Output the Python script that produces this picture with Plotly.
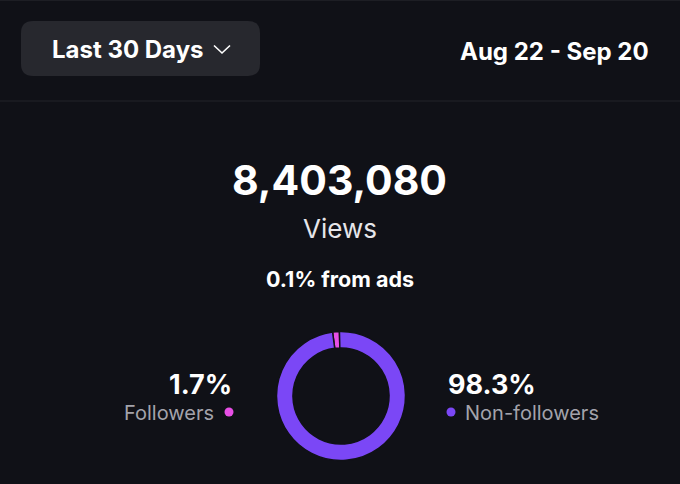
import plotly.graph_objects as go

# data
segments = ["Followers", "Non-followers"]
shares = [1.7, 98.3]
seg_colors = ["#e84fe6", "#7b47f6"]
total_views = 8403080
ads_share = 0.1
period_label = "Last 30 Days"
date_range = "Aug 22 - Sep 20"

W, H = 680, 484
BG = "#101117"
FONT = "Inter"


def px(x):
    return x / W


def py(y):
    return 1 - y / H


def rounded_rect(x0, y0, x1, y1, r):
    # rounded rectangle path in paper coords, input in pixels
    pts = [
        f"M {px(x0 + r)},{py(y0)}",
        f"L {px(x1 - r)},{py(y0)}",
        f"Q {px(x1)},{py(y0)} {px(x1)},{py(y0 + r)}",
        f"L {px(x1)},{py(y1 - r)}",
        f"Q {px(x1)},{py(y1)} {px(x1 - r)},{py(y1)}",
        f"L {px(x0 + r)},{py(y1)}",
        f"Q {px(x0)},{py(y1)} {px(x0)},{py(y1 - r)}",
        f"L {px(x0)},{py(y0 + r)}",
        f"Q {px(x0)},{py(y0)} {px(x0 + r)},{py(y0)} Z",
    ]
    return " ".join(pts)


fig = go.Figure()

cx, cy, rad = 341, 396, 64.5
fig.add_trace(go.Pie(
    labels=segments,
    values=shares,
    hole=0.745,
    sort=False,
    direction="clockwise",
    rotation=-7.5,  # followers slice sits just left of 12 o'clock
    marker=dict(colors=seg_colors, line=dict(color=BG, width=1.5)),
    textinfo="none",
    hoverinfo="label+percent",
    showlegend=False,
    domain=dict(x=[px(cx - rad), px(cx + rad)], y=[py(cy + rad), py(cy - rad)]),
))


def note(text, x, y, size, color="#ffffff", bold=False, xanchor="center"):
    if bold:
        text = f"<b>{text}</b>"
    fig.add_annotation(
        x=px(x), y=py(y), xref="paper", yref="paper",
        text=text, showarrow=False, xanchor=xanchor, yanchor="middle",
        font=dict(family=FONT, size=size, color=color),
    )


shapes = [
    # header button
    dict(type="path", path=rounded_rect(21, 21, 260, 76, 12),
         fillcolor="#27282e", line=dict(width=0), layer="below"),
    # chevron
    dict(type="path",
         path=f"M {px(214)},{py(45.5)} L {px(222)},{py(53)} L {px(230)},{py(45.5)}",
         line=dict(color="#ffffff", width=1.6)),
    # top edge + header divider
    dict(type="line", x0=0, x1=1, y0=py(0.5), y1=py(0.5),
         line=dict(color="#1d1e24", width=1)),
    dict(type="line", x0=0, x1=1, y0=py(101), y1=py(101),
         line=dict(color="#23242a", width=1)),
    # legend dots
    dict(type="circle", x0=px(224.5), x1=px(233.5), y0=py(407.5), y1=py(416.5),
         fillcolor=seg_colors[0], line=dict(width=0)),
    dict(type="circle", x0=px(446.5), x1=px(455.5), y0=py(407.5), y1=py(416.5),
         fillcolor=seg_colors[1], line=dict(width=0)),
]
for s in shapes:
    s.setdefault("xref", "paper")
    s.setdefault("yref", "paper")
    fig.add_shape(**s)

note(period_label, 50, 49, 24, bold=True, xanchor="left")
note(date_range, 651, 52, 24, bold=True, xanchor="right")
note(f"{total_views:,}", 339, 180, 41, bold=True)
note("Views", 340, 229, 26, color="#e6e6ea")
note(f"{ads_share}% from ads", 340, 279, 21.5, bold=True)

note(f"{shares[0]}%", 234, 384, 27, bold=True, xanchor="right")
note(segments[0], 216, 413, 20, color="#a3a3ab", xanchor="right")
note(f"{shares[1]}%", 446, 384, 27, bold=True, xanchor="left")
note(segments[1], 463, 413, 20, color="#a3a3ab", xanchor="left")

fig.update_layout(
    width=W, height=H,
    margin=dict(l=0, r=0, t=0, b=0),
    paper_bgcolor=BG,
    plot_bgcolor=BG,
    font=dict(family=FONT),
)

fig.write_html(
    "out.html",
    config={"displayModeBar": False},
    post_script="document.body.style.margin='0';document.body.style.background='%s';" % BG,
)
